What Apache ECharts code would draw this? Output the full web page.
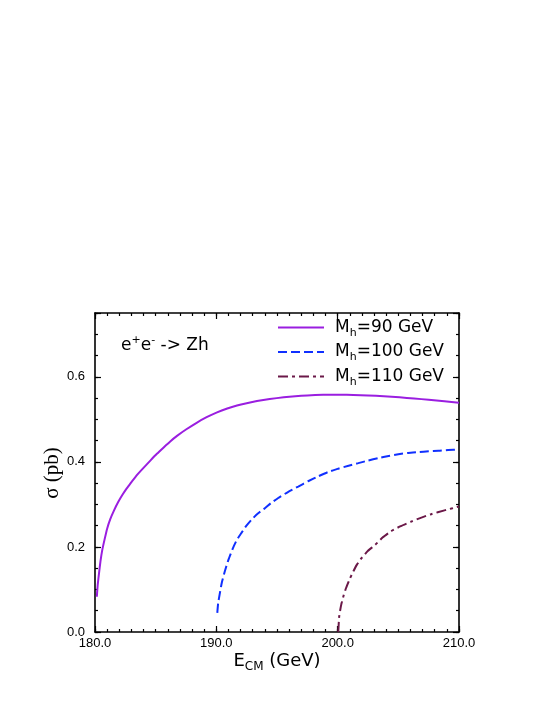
<!DOCTYPE html>
<html>
<head>
<meta charset="utf-8">
<script src="https://cdn.jsdelivr.net/npm/echarts@6/dist/echarts.min.js"></script>
<style>
  html, body { margin: 0; padding: 0; background: #fff; }
  #chart { width: 554px; height: 717px; }
</style>
</head>
<body>
<div id="chart"></div>
<script>
// values
var yTicks = [0, 0.2, 0.4, 0.6];

var e90 = [180.15, 180.22, 180.33, 180.45, 180.6, 180.8, 181.0, 181.25, 181.57, 181.9, 182.25, 182.6, 182.94, 183.4, 183.9, 184.56, 185.1, 185.66, 186.2, 186.76, 187.5, 188.41, 189.2, 190.06, 190.9, 191.7, 192.5, 193.35, 194.4, 195.55, 196.5, 197.5, 198.8, 200.2, 201.3, 202.5, 203.8, 205.1, 206.3, 207.5, 208.8, 210];
var s90 = [0.083, 0.11, 0.138, 0.166, 0.193, 0.219, 0.243, 0.265, 0.286, 0.305, 0.322, 0.337, 0.350, 0.367, 0.383, 0.403, 0.419, 0.434, 0.448, 0.461, 0.476, 0.4925, 0.505, 0.5165, 0.5255, 0.5325, 0.538, 0.543, 0.5478, 0.5518, 0.5543, 0.5563, 0.5577, 0.558, 0.5575, 0.5562, 0.5543, 0.5518, 0.549, 0.546, 0.5425, 0.539];

var e100 = [190.08, 190.15, 190.27, 190.45, 190.7, 191.0, 191.38, 191.7, 192.07, 192.45, 192.9, 193.4, 194.0, 194.5, 195.1, 195.9, 196.75, 197.6, 198.4, 199.2, 200.05, 200.9, 201.7, 202.5, 203.35, 204.2, 205.0, 205.8, 206.65, 207.5, 208.3, 209.1, 210];
var s100 = [0.045, 0.068, 0.088, 0.116, 0.143, 0.170, 0.198, 0.217, 0.233, 0.249, 0.264, 0.278, 0.291, 0.303, 0.315, 0.329, 0.342, 0.355, 0.366, 0.376, 0.384, 0.391, 0.397, 0.403, 0.409, 0.414, 0.418, 0.421, 0.423, 0.425, 0.426, 0.428, 0.429];

var e110 = [200.05, 200.12, 200.2, 200.3, 200.5, 200.7, 201.0, 201.3, 201.6, 201.98, 202.5, 203.1, 203.7, 204.4, 205.2, 206.1, 206.9, 207.7, 208.8, 210];
var s110 = [0.0, 0.035, 0.05, 0.065, 0.087, 0.104, 0.125, 0.143, 0.159, 0.174, 0.191, 0.205, 0.222, 0.237, 0.249, 0.260, 0.269, 0.277, 0.286, 0.295];

var names = ['90', '100', '110'];

function pairs(xs, ys) {
    return xs.map(function (x, i) { return [x, ys[i]]; });
}

var chart = echarts.init(document.getElementById('chart'));

var font = 'Liberation Sans, Arial, sans-serif';
var wide = 'DejaVu Sans, sans-serif';

// main axis (labels + long ticks) and a companion axis for the short ticks
function xAx(pos, step, len, main) {
    return {
        type: 'value', position: pos, min: 180, max: 210, interval: step,
        axisLine: { show: main, onZero: false, lineStyle: { color: '#000', width: 1.6 } },
        axisTick: { show: true, inside: true, length: len, lineStyle: { color: '#000', width: 1.2 } },
        axisLabel: { show: main && pos === 'bottom', margin: 5, formatter: function (v) { return v.toFixed(1); }, fontFamily: font, fontSize: 13, color: '#000' },
        splitLine: { show: false }
    };
}
function yAx(pos, step, len, main) {
    return {
        type: 'value', position: pos, min: 0, max: 0.75, interval: step,
        axisLine: { show: main, onZero: false, lineStyle: { color: '#000', width: 1.6 } },
        axisTick: { show: true, inside: true, length: len, lineStyle: { color: '#000', width: 1.2 } },
        axisLabel: {
            show: main && pos === 'left', margin: 10, fontFamily: font, fontSize: 13, color: '#000',
            formatter: function (v) {
                return yTicks.some(function (t) { return Math.abs(t - v) < 1e-6; }) ? v.toFixed(1) : '';
            }
        },
        splitLine: { show: false }
    };
}

var xMain = xAx('bottom', 10, 6, true);
xMain.name = '{a|E}{s|CM}{a| (GeV)}';
xMain.nameLocation = 'middle';
xMain.nameGap = 17;
xMain.nameTextStyle = {
    rich: {
        a: { fontFamily: wide, fontSize: 18, color: '#000', lineHeight: 24 },
        s: { fontFamily: wide, fontSize: 12, color: '#000', lineHeight: 12, verticalAlign: 'bottom' }
    }
};

var subRich = {
    a: { fontFamily: wide, fontSize: 17, color: '#000', lineHeight: 22 },
    s: { fontFamily: wide, fontSize: 11, color: '#000', lineHeight: 10, verticalAlign: 'bottom' }
};

var option = {
    animation: false,
    backgroundColor: '#fff',
    grid: { left: 95, right: 95, top: 313, bottom: 85, containLabel: false },
    xAxis: [
        xMain,
        xAx('bottom', 1, 3, false),
        xAx('top', 10, 6, true),
        xAx('top', 1, 3, false)
    ],
    yAxis: [
        yAx('left', 0.2, 6, true),
        yAx('left', 0.05, 3, false),
        yAx('right', 0.2, 6, true),
        yAx('right', 0.05, 3, false)
    ],
    legend: {
        orient: 'vertical',
        left: 277,
        top: 319,
        padding: 0,
        itemWidth: 46,
        itemHeight: 12,
        itemGap: 5,
        data: names,
        itemStyle: { opacity: 0 },
        formatter: function (n) { return '{a|M}{s|h}{a|=' + n + ' GeV}'; },
        textStyle: { rich: subRich, padding: [0, 0, 0, 6] }
    },
    graphic: [{
        type: 'text',
        left: 121,
        top: 335,
        style: {
            text: '{a|e}{p|+}{a|e}{p|-}{a| -> Zh}',
            rich: {
                a: { fontFamily: wide, fontSize: 17, fill: '#000', lineHeight: 22 },
                p: { fontFamily: wide, fontSize: 11, fill: '#000', lineHeight: 10, verticalAlign: 'top' }
            }
        }
    }, {
        // y axis title
        type: 'text',
        x: 52,
        y: 473,
        rotation: Math.PI / 2,
        style: {
            text: 'σ (pb)',
            fontFamily: 'Liberation Serif, serif',
            fontSize: 21,
            fill: '#000',
            align: 'center',
            verticalAlign: 'middle'
        }
    }],
    series: [
        {
            name: '90', type: 'line', data: pairs(e90, s90),
            showSymbol: false, symbol: 'none', smooth: 0.15,
            lineStyle: { color: '#9a1ee0', width: 2 }, itemStyle: { color: '#9a1ee0' }
        },
        {
            name: '100', type: 'line', data: pairs(e100, s100),
            showSymbol: false, symbol: 'none', smooth: 0.15,
            lineStyle: { color: '#1030ff', width: 2, type: [9, 4] }, itemStyle: { color: '#1030ff' }
        },
        {
            name: '110', type: 'line', data: pairs(e110, s110),
            showSymbol: false, symbol: 'none', smooth: 0.15,
            lineStyle: { color: '#6b1848', width: 2, type: [10, 4, 3, 4] }, itemStyle: { color: '#6b1848' }
        }
    ]
};

chart.setOption(option);
</script>
</body>
</html>
